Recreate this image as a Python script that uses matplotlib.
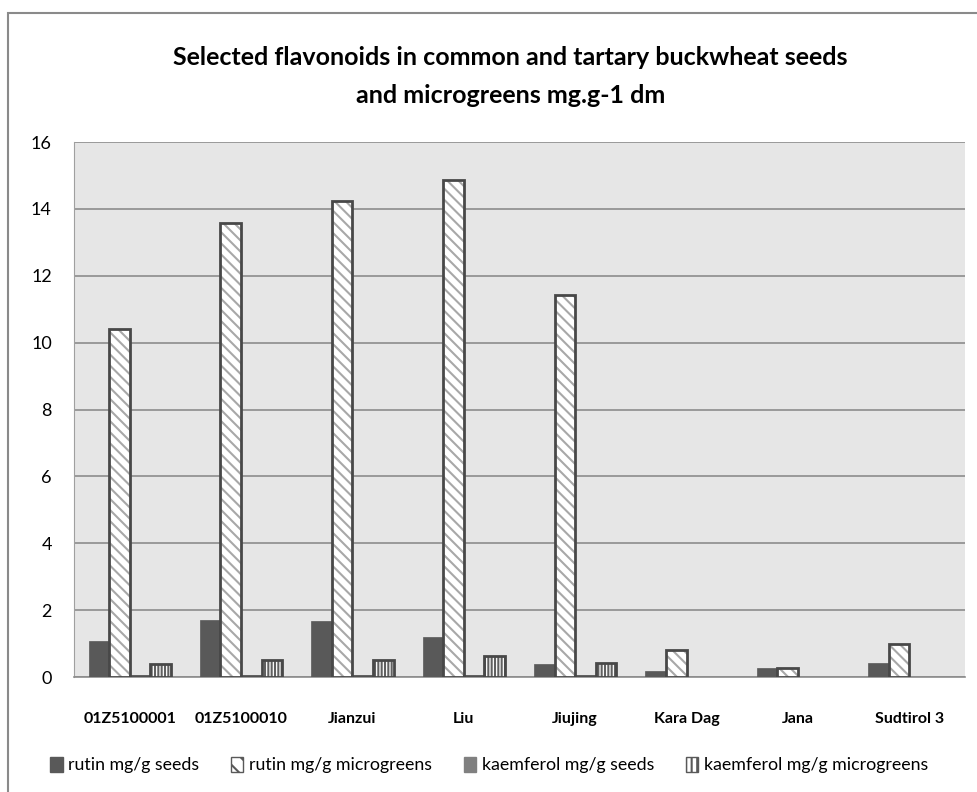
import numpy as np
import matplotlib
matplotlib.use("Agg")
import matplotlib.pyplot as plt
from matplotlib.patches import Rectangle, Patch

# cultivars and flavonoid content, mg/g dry matter
cultivars = ['01Z5100001', '01Z5100010', 'Jianzui', 'Liu', 'Jiujing',
             'Kara Dag', 'Jana', 'Sudtirol 3']
rutin_seeds = [1.08, 1.70, 1.66, 1.19, 0.39, 0.19, 0.28, 0.43]
rutin_micro = [10.42, 13.59, 14.25, 14.86, 11.43, 0.81, 0.27, 0.98]
kaemp_seeds = [0.02, 0.02, 0.02, 0.02, 0.02, 0.0, 0.0, 0.0]
kaemp_micro = [0.39, 0.50, 0.50, 0.63, 0.41, 0.0, 0.0, 0.0]

series_names = ['rutin mg/g seeds', 'rutin mg/g microgreens',
                'kaemferol mg/g seeds', 'kaemferol mg/g microgreens']

plt.rcParams['font.family'] = ['Lato', 'DejaVu Sans']
plt.rcParams['hatch.linewidth'] = 1.5

fig = plt.figure(figsize=(9.78, 7.92), dpi=100)
ax = fig.add_axes([0.0757, 0.1452, 0.911, 0.6755])
ax.set_facecolor('#e6e6e6')

# outer chart frame
fig.patches.append(Rectangle((8 / 978, -0.05), 1.1, 1 - 13 / 792 + 0.05,
                             transform=fig.transFigure, fill=False,
                             edgecolor='#8a8a8a', linewidth=1.5))

x = np.arange(len(cultivars))
w = 0.185
offs = [-1.5 * w, -0.5 * w, 0.5 * w, 1.5 * w]

ks = np.array(kaemp_seeds)
km = np.array(kaemp_micro)
has_k = km > 0

ax.bar(x + offs[0], rutin_seeds, w, color='#595959', edgecolor='#595959',
       linewidth=0.5, zorder=3)
ax.bar(x + offs[1], rutin_micro, w, color='white', edgecolor='#a8a8a8',
       hatch='\\\\\\', linewidth=0, zorder=3)
ax.bar(x + offs[1], rutin_micro, w, fill=False, edgecolor='#484848',
       linewidth=2, zorder=4)
ax.bar(x[has_k] + offs[2], ks[has_k], w, color='#808080', edgecolor='#505050',
       linewidth=2, zorder=3)
ax.bar(x[has_k] + offs[3], km[has_k], w, color='white', edgecolor='#606060',
       hatch='|||||', linewidth=0, zorder=3)
ax.bar(x[has_k] + offs[3], km[has_k], w, fill=False, edgecolor='#484848',
       linewidth=2, zorder=4)

ax.set_xlim(-0.5, len(cultivars) - 0.5)
ax.set_ylim(0, 16)
ax.set_yticks(np.arange(0, 17, 2))
ax.yaxis.grid(True, color='#8c8c8c', linewidth=1.2, zorder=0)
ax.set_axisbelow(True)

ax.set_xticks(x)
ax.set_xticklabels(cultivars, fontsize=11.5, fontweight='bold')
ax.tick_params(axis='x', length=0, pad=25)
ax.tick_params(axis='y', length=0, pad=16, labelsize=13)

for s in ['top', 'right']:
    ax.spines[s].set_visible(False)
ax.spines['left'].set_color('#a0a0a0')
ax.spines['bottom'].set_color('#8c8c8c')
ax.spines['bottom'].set_linewidth(1.2)

fig.text(0.522, 0.928, 'Selected flavonoids in common and tartary buckwheat seeds',
         ha='center', va='center', fontsize=18, fontweight='bold')
fig.text(0.522, 0.879, 'and microgreens mg.g-1 dm',
         ha='center', va='center', fontsize=18, fontweight='bold')

handles = [
    Patch(facecolor='#595959', edgecolor='#595959'),
    Patch(facecolor='white', edgecolor='#595959', hatch='\\\\'),
    Patch(facecolor='#808080', edgecolor='#808080'),
    Patch(facecolor='white', edgecolor='#595959', hatch='|||'),
]
fig.legend(handles, series_names, loc='center', ncol=4,
           bbox_to_anchor=(0.500, 0.034), frameon=False, fontsize=12.8,
           handlelength=0.7, handleheight=0.9, handletextpad=0.3,
           columnspacing=1.8)

fig.savefig('out.png', dpi=100)
